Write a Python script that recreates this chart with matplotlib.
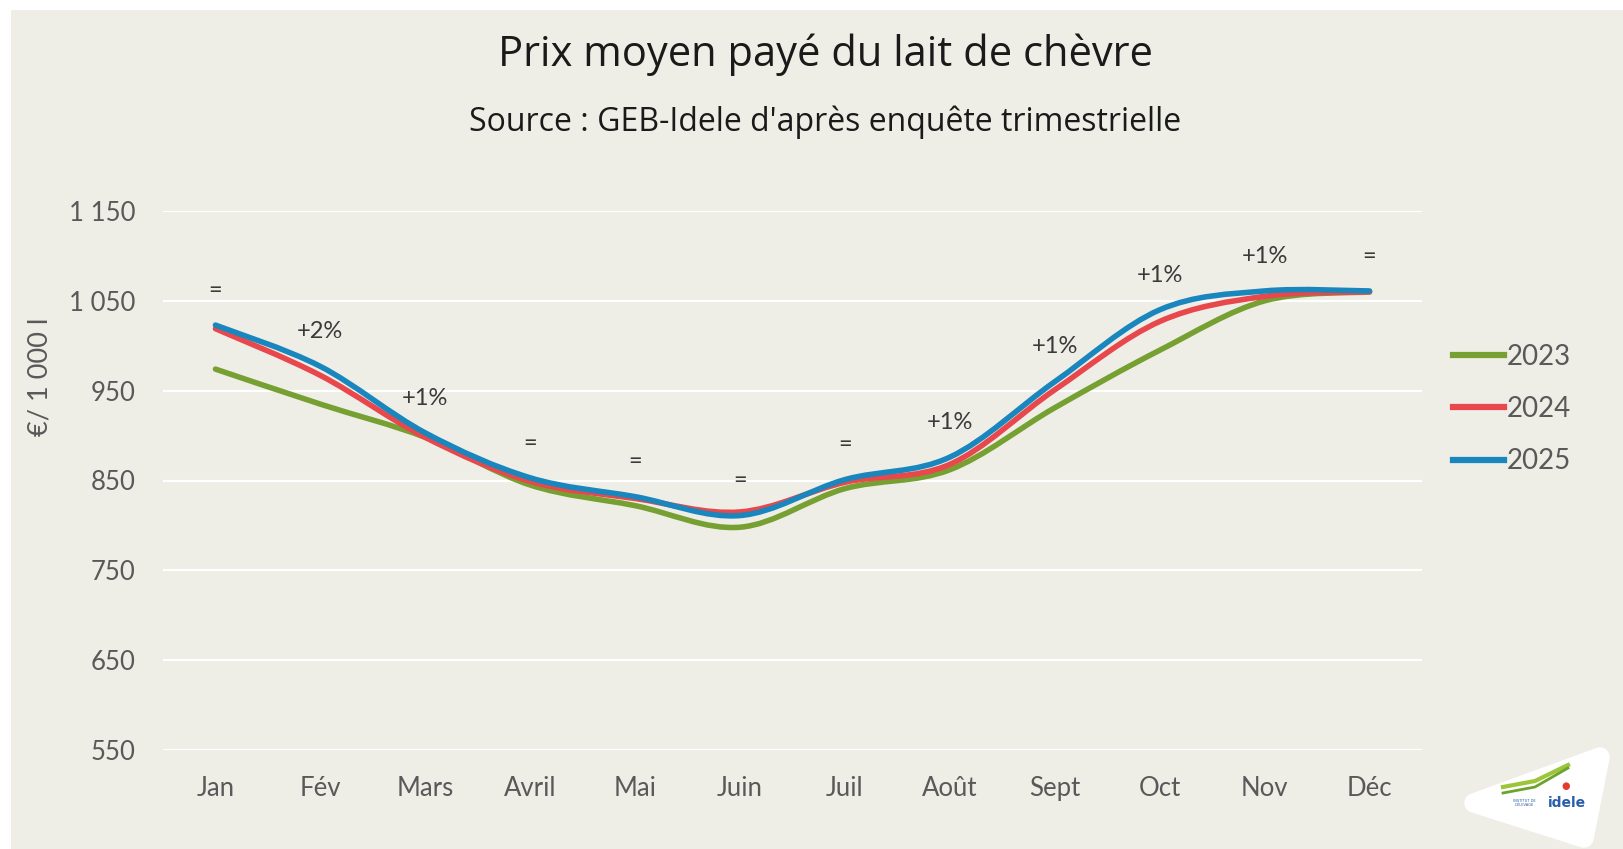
import matplotlib
matplotlib.use("Agg")
import matplotlib.pyplot as plt
from matplotlib.path import Path
from matplotlib.patches import PathPatch, Rectangle, Polygon
from matplotlib.lines import Line2D

months = ["Jan", "Fév", "Mars", "Avril", "Mai", "Juin", "Juil", "Août", "Sept", "Oct", "Nov", "Déc"]
prix_2023 = [974, 935, 898, 845, 822, 798, 841, 862, 931, 995, 1050, 1060]
prix_2024 = [1019, 967, 898, 849, 830, 815, 848, 868, 951, 1027, 1055, 1060]
prix_2025 = [1023, 977, 903, 853, 832, 811, 851, 876, 960, 1040, 1061, 1061]
evolution = ["=", "+2%", "+1%", "=", "=", "=", "=", "+1%", "+1%", "+1%", "+1%", "="]
years = ["2023", "2024", "2025"]
colors = ["#76A031", "#E8474C", "#1A86BE"]
yticks = [550, 650, 750, 850, 950, 1050, 1150]

BG = "#EEEEE7"
GREY = "#595959"
TXT = ["Lato", "DejaVu Sans"]
NARROW = ["Open Sans", "DejaVu Sans"]


def smooth_path(x, y):
    # excel-like smoothed line: cubic bezier through every point
    verts = [(x[0], y[0])]
    codes = [Path.MOVETO]
    n = len(x)
    for i in range(n - 1):
        p0 = (x[max(i - 1, 0)], y[max(i - 1, 0)])
        p1 = (x[i], y[i])
        p2 = (x[i + 1], y[i + 1])
        p3 = (x[min(i + 2, n - 1)], y[min(i + 2, n - 1)])
        c1 = (p1[0] + (p2[0] - p0[0]) / 6, p1[1] + (p2[1] - p0[1]) / 6)
        c2 = (p2[0] - (p3[0] - p1[0]) / 6, p2[1] - (p3[1] - p1[1]) / 6)
        verts += [c1, c2, p2]
        codes += [Path.CURVE4] * 3
    return Path(verts, codes)


fig = plt.figure(figsize=(16.24, 8.49), dpi=100, facecolor="white")
fig.patches.append(Rectangle((11 / 1624, 0), 1, 1 - 10 / 849, transform=fig.transFigure,
                             facecolor=BG, edgecolor="none", zorder=-10))

ax = fig.add_axes([163 / 1624, 99 / 849, 1259 / 1624, 539 / 849])
ax.patch.set_alpha(0)
for s in ax.spines.values():
    s.set_visible(False)

ax.set_xlim(-0.5, len(months) - 0.5)
ax.set_ylim(550, 1150)
ax.set_yticks(yticks)
ax.set_yticklabels([f"{v:,}".replace(",", " ") for v in yticks], fontsize=18.5, color=GREY, family=TXT)
ax.set_xticks(range(len(months)))
ax.set_xticklabels(months, fontsize=18.5, color=GREY, family=TXT)
ax.tick_params(axis="y", length=0, pad=20)
ax.tick_params(axis="x", length=0, pad=19)
ax.grid(axis="y", color="white", linewidth=1.6)
ax.set_axisbelow(True)

xs = list(range(len(months)))
for vals, c in zip([prix_2023, prix_2024, prix_2025], colors):
    ax.add_patch(PathPatch(smooth_path(xs, vals), facecolor="none", edgecolor=c,
                           linewidth=4, capstyle="round", zorder=3))

for i, lab in enumerate(evolution):
    ax.annotate(lab, (i, prix_2025[i]), xytext=(0, 25), textcoords="offset points",
                ha="center", va="center", fontsize=17, color="#3A3A3A", family=TXT)

handles = [Line2D([], [], color=c, linewidth=4.5) for c in colors]
fig.legend(handles, years, loc="center left", bbox_to_anchor=(1453 / 1624, 1 - 409 / 849),
           frameon=False, handlelength=1.85, handletextpad=0.08,
           labelspacing=0.95, borderpad=0, borderaxespad=0, labelcolor=GREY,
           prop={"family": TXT, "size": 20})

fig.text(40 / 1624, 1 - 377 / 849, "€/ 1 000 l", rotation=90, ha="center", va="center",
         fontsize=19.5, color=GREY, family=TXT)

fig.text(825 / 1624, 1 - 55 / 849, "Prix moyen payé du lait de chèvre", ha="center", va="center",
         fontsize=30, color="#1A1A1A", family=NARROW)
fig.text(825 / 1624, 1 - 122 / 849, "Source : GEB-Idele d'après enquête trimestrielle", ha="center",
         va="center", fontsize=23, color="#1A1A1A", family=NARROW)

# idele logo (simplified)
W, H = 1624, 849
def fp(x, y):
    return (x / W, 1 - y / H)

fig.patches.append(Polygon([fp(1474, 803), fp(1600, 757), fp(1584, 838)], closed=True,
                           transform=fig.transFigure, facecolor="white", edgecolor="white",
                           linewidth=14, joinstyle="round", zorder=5))
for dy, c, lw in [(0, "#9CC53A", 3.0), (6, "#6BA32E", 2.0)]:
    fig.lines.append(Line2D([1503 / W, 1535 / W, 1568 / W],
                            [1 - (787 + dy) / H, 1 - (781 + dy) / H, 1 - (765 + dy * 0.5) / H],
                            transform=fig.transFigure, color=c, linewidth=lw, zorder=6))
fig.text(1566 / W, 1 - 786 / H, "●", color="#E53B2F", fontsize=7, ha="center", va="center", zorder=6)
fig.text(1524 / W, 1 - 803 / H, "INSTITUT DE\nL'ÉLEVAGE", color="#2A5DAA", fontsize=2.6,
         ha="center", va="center", zorder=6, linespacing=1.0)
fig.text(1567 / W, 1 - 803 / H, "idele", color="#2A5DAA", fontsize=10, fontweight="bold",
         ha="center", va="center", zorder=6)

fig.savefig("out.png", dpi=100, facecolor=fig.get_facecolor())
